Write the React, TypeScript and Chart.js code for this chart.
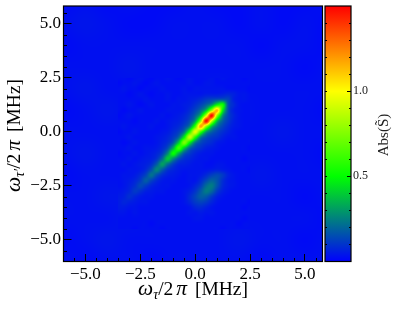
import React, { useEffect, useRef } from "react";
import { Chart, registerables, ScatterController } from "chart.js";

Chart.register(...registerables);

const FONT = '"Liberation Serif", serif';

// Tick positions
const xMajor = [-5, -2.5, 0, 2.5, 5];
const yMajor = [-5, -2.5, 0, 2.5, 5];
const axisMinor = [-5.5, -4.5, -4, -3.5, -3, -2, -1.5, -1, -0.5, 0.5, 1, 1.5, 2, 3, 3.5, 4, 4.5, 5.5];
const cbMajor = [0.5, 1.0];
const cbMinor = [0.1, 0.2, 0.3, 0.4, 0.5, 0.6, 0.7, 0.8, 0.9, 1.0, 1.1, 1.2, 1.3, 1.4];

// Axis label pieces
const xLabelRuns = [
  { text: "ω", italic: true, math: true },
  { text: "τ", italic: true, sub: true },
  { text: "/2", pad: 3 },
  { text: "π", italic: true, math: true, pad: 3 },
  { text: " [MHz]" },
];
const yLabelRuns = [
  { text: "ω", italic: true, math: true },
  { text: "τ′", italic: true, sub: true },
  { text: "/2", pad: 3 },
  { text: "π", italic: true, math: true, pad: 3 },
  { text: " [MHz]" },
];
const cbLabel = "Abs(S̃)";

// Colour map stops: value, r, g, b
const cmapStops = [
  [0, 0, 0, 255],
  [0.5, 0, 255, 0],
  [1.0, 255, 255, 0],
  [1.5, 255, 0, 0],
];

// Wide background grid (values ×100), top row first
const coarseX = [-6, -5, -4, -3, -2, -1, 0, 1, 2, 3, 4, 5, 6];
const coarseY = [6, 5, 4, 3, 2, 1, 0, -1, -2, -3, -4, -5, -6];
const coarseRows = [
  [2, 3, 2, 3, 2, 2, 3, 2, 2, 3, 2, 2, 3],
  [3, 4, 3, 2, 2, 3, 3, 3, 2, 3, 2, 3, 2],
  [2, 3, 3, 3, 3, 3, 3, 3, 3, 2, 3, 3, 2],
  [3, 3, 3, 4, 3, 3, 3, 3, 3, 3, 3, 2, 3],
  [3, 4, 3, 3, 3, 3, 3, 4, 3, 3, 3, 3, 3],
  [2, 3, 4, 3, 3, 3, 3, 3, 4, 3, 3, 3, 2],
  [3, 3, 3, 3, 3, 3, 3, 3, 3, 3, 4, 3, 3],
  [3, 4, 3, 3, 3, 3, 3, 3, 3, 3, 3, 3, 2],
  [2, 3, 3, 3, 4, 4, 3, 3, 3, 4, 3, 3, 3],
  [3, 3, 4, 4, 4, 3, 4, 3, 3, 3, 3, 2, 3],
  [3, 3, 3, 4, 3, 3, 3, 3, 3, 3, 3, 3, 2],
  [2, 3, 4, 3, 3, 3, 3, 3, 4, 3, 3, 2, 3],
  [3, 2, 3, 3, 2, 3, 3, 3, 3, 2, 3, 3, 3],
];

// Central fine grid (values ×100), top row first
const fineX = [-3.5, -3.25, -3, -2.75, -2.5, -2.25, -2, -1.75, -1.5, -1.25, -1, -0.75, -0.5, -0.25, 0, 0.25, 0.5, 0.75, 1, 1.25, 1.5, 1.75, 2, 2.25, 2.5];
const fineY = [2.5, 2.25, 2, 1.75, 1.5, 1.25, 1, 0.75, 0.5, 0.25, 0, -0.25, -0.5, -0.75, -1, -1.25, -1.5, -1.75, -2, -2.25, -2.5, -2.75, -3, -3.25, -3.5, -3.75, -4, -4.25, -4.5];
const fineRows = [
  [3, 3, 2, 3, 4, 3, 2, 3, 3, 4, 3, 2, 3, 4, 3, 3, 3, 4, 3, 4, 3, 3, 3, 2, 3],
  [2, 3, 3, 4, 3, 2, 3, 4, 3, 3, 3, 3, 3, 4, 3, 3, 4, 4, 3, 3, 3, 3, 3, 3, 3],
  [3, 4, 3, 3, 2, 3, 3, 3, 4, 3, 3, 3, 4, 3, 4, 4, 4, 4, 4, 4, 3, 3, 3, 3, 2],
  [3, 3, 2, 3, 4, 3, 2, 3, 3, 4, 3, 3, 4, 4, 4, 4, 5, 5, 5, 6, 7, 6, 4, 4, 3],
  [3, 3, 3, 3, 3, 4, 3, 3, 3, 4, 3, 4, 4, 5, 6, 8, 11, 13, 15, 16, 13, 6, 4, 4, 3],
  [3, 3, 4, 3, 2, 3, 4, 3, 3, 3, 4, 4, 5, 6, 9, 13, 19, 29, 49, 53, 16, 8, 4, 3, 3],
  [3, 2, 3, 3, 4, 3, 3, 3, 3, 4, 4, 4, 5, 8, 13, 21, 38, 78, 113, 49, 15, 6, 4, 3, 3],
  [2, 3, 4, 3, 3, 3, 3, 3, 4, 3, 4, 5, 7, 11, 19, 38, 90, 148, 78, 29, 13, 7, 4, 3, 3],
  [3, 3, 3, 2, 3, 3, 3, 4, 3, 4, 5, 6, 9, 15, 31, 78, 148, 90, 38, 19, 11, 6, 4, 3, 3],
  [3, 4, 3, 3, 3, 3, 4, 3, 3, 4, 6, 8, 13, 25, 62, 118, 78, 38, 21, 13, 8, 5, 4, 3, 3],
  [2, 3, 3, 4, 3, 3, 3, 3, 4, 5, 8, 12, 23, 56, 95, 62, 31, 19, 13, 9, 6, 4, 3, 3, 3],
  [3, 3, 4, 3, 3, 3, 3, 4, 5, 7, 11, 20, 48, 88, 56, 25, 15, 11, 9, 6, 4, 4, 3, 3, 3],
  [3, 2, 3, 4, 3, 3, 3, 4, 6, 9, 17, 40, 74, 48, 23, 14, 10, 8, 5, 4, 3, 3, 3, 3, 3],
  [3, 3, 4, 3, 3, 4, 4, 5, 8, 15, 34, 61, 40, 20, 12, 9, 6, 5, 4, 3, 3, 3, 3, 3, 2],
  [2, 3, 3, 4, 3, 4, 5, 7, 12, 27, 51, 34, 17, 11, 7, 5, 4, 4, 3, 3, 3, 3, 3, 3, 3],
  [3, 3, 4, 3, 4, 5, 6, 10, 21, 39, 27, 15, 9, 7, 5, 4, 4, 3, 3, 3, 3, 3, 3, 2, 3],
  [3, 4, 3, 4, 5, 6, 9, 18, 31, 21, 12, 7, 6, 5, 4, 4, 3, 3, 4, 4, 3, 3, 3, 3, 3],
  [3, 3, 4, 4, 5, 8, 15, 26, 18, 10, 7, 5, 4, 4, 4, 4, 4, 5, 6, 5, 4, 3, 3, 3, 2],
  [3, 4, 4, 5, 8, 13, 22, 15, 9, 6, 5, 4, 3, 4, 4, 5, 8, 12, 14, 11, 6, 4, 3, 3, 3],
  [3, 4, 5, 7, 11, 18, 13, 8, 5, 4, 4, 3, 3, 4, 4, 8, 14, 19, 16, 9, 5, 4, 3, 3, 3],
  [3, 4, 6, 9, 14, 11, 7, 5, 4, 4, 3, 3, 3, 4, 7, 12, 21, 24, 16, 8, 5, 4, 3, 3, 3],
  [4, 5, 7, 11, 9, 6, 5, 4, 4, 3, 3, 3, 4, 6, 10, 17, 24, 20, 11, 6, 4, 3, 3, 3, 3],
  [5, 6, 9, 7, 5, 4, 4, 3, 3, 3, 3, 3, 4, 8, 13, 18, 17, 11, 6, 4, 3, 3, 3, 3, 3],
  [5, 7, 6, 5, 4, 4, 3, 3, 3, 3, 3, 3, 4, 7, 11, 13, 11, 7, 4, 3, 3, 3, 3, 3, 2],
  [5, 5, 4, 4, 3, 3, 3, 3, 3, 3, 3, 3, 3, 4, 7, 8, 6, 4, 3, 3, 3, 3, 3, 2, 3],
  [4, 4, 3, 4, 3, 3, 3, 3, 3, 3, 3, 3, 3, 4, 4, 5, 4, 4, 3, 3, 3, 3, 3, 3, 3],
  [3, 3, 3, 3, 3, 3, 3, 3, 3, 3, 3, 3, 3, 3, 4, 4, 3, 3, 3, 3, 3, 3, 3, 2, 3],
  [3, 3, 3, 3, 3, 3, 2, 3, 3, 3, 3, 3, 3, 3, 3, 3, 3, 3, 3, 3, 3, 3, 2, 3, 3],
  [3, 3, 3, 2, 3, 3, 3, 3, 2, 3, 3, 3, 3, 3, 3, 3, 3, 3, 3, 2, 3, 3, 3, 3, 3],
];

function colorOf(v: number): number[] {
  for (let i = 1; i < cmapStops.length; i++) {
    const a = cmapStops[i - 1];
    const b = cmapStops[i];
    if (v <= b[0]) {
      const t = Math.max(0, (v - a[0]) / (b[0] - a[0]));
      return [a[1] + (b[1] - a[1]) * t, a[2] + (b[2] - a[2]) * t, a[3] + (b[3] - a[3]) * t];
    }
  }
  const l = cmapStops[cmapStops.length - 1];
  return [l[1], l[2], l[3]];
}

function cubicWeights(t: number): number[] {
  const t2 = t * t;
  const t3 = t2 * t;
  return [
    0.5 * (-t3 + 2 * t2 - t),
    0.5 * (3 * t3 - 5 * t2 + 2),
    0.5 * (-3 * t3 + 4 * t2 + t),
    0.5 * (t3 - t2),
  ];
}

// Image-style heat layer: a grid dataset resampled smoothly through the chart's scales.
class HeatController extends ScatterController {
  static id = "heat";
  static defaults = ScatterController.defaults;
  static overrides = ScatterController.overrides;

  draw() {
    const chart: any = (this as any).chart;
    const ds: any = (this as any).getDataset();
    const { ctx, chartArea, scales } = chart;
    const xs: number[] = ds.gridX;
    const ys: number[] = ds.gridY;
    const nx = xs.length;
    const ny = ys.length;
    const left = Math.floor(chartArea.left);
    const top = Math.floor(chartArea.top);
    const w = Math.ceil(chartArea.right) - left;
    const h = Math.ceil(chartArea.bottom) - top;
    const off = document.createElement("canvas");
    off.width = w;
    off.height = h;
    const octx = off.getContext("2d")!;
    const img = octx.createImageData(w, h);
    const at = (r: number, c: number) => {
      const rr = Math.min(ny - 1, Math.max(0, r));
      const cc = Math.min(nx - 1, Math.max(0, c));
      return ds.data[rr * nx + cc]?.v ?? 0.03;
    };
    for (let py = 0; py < h; py++) {
      const yv = scales.y.getValueForPixel(top + py + 0.5);
      const fy = (yv - ys[0]) / (ys[1] - ys[0]);
      if (fy < 0 || fy > ny - 1) continue;
      const r0 = Math.floor(fy);
      const wy = cubicWeights(fy - r0);
      for (let px = 0; px < w; px++) {
        const xv = scales.x.getValueForPixel(left + px + 0.5);
        const fx = (xv - xs[0]) / (xs[1] - xs[0]);
        if (fx < 0 || fx > nx - 1) continue;
        const c0 = Math.floor(fx);
        const wx = cubicWeights(fx - c0);
        let v = 0;
        for (let j = 0; j < 4; j++) {
          for (let i = 0; i < 4; i++) {
            v += wy[j] * wx[i] * at(r0 - 1 + j, c0 - 1 + i);
          }
        }
        const c = colorOf(Math.min(1.5, Math.max(0, v)));
        const k = (py * w + px) * 4;
        img.data[k] = c[0];
        img.data[k + 1] = c[1];
        img.data[k + 2] = c[2];
        img.data[k + 3] = 255;
      }
    }
    octx.putImageData(img, 0, 0);
    ctx.save();
    ctx.drawImage(off, left, top);
    ctx.restore();
  }
}
Chart.register(HeatController as any);

function gridPoints(xs: number[], ys: number[], rows: number[][]) {
  return ys.flatMap((y, r) => xs.map((x, c) => ({ x, y, v: rows[r][c] / 100 })));
}

function drawRuns(ctx: CanvasRenderingContext2D, runs: any[], size: number) {
  const fontOf = (run: any) =>
    `${run.italic ? "italic " : ""}${run.sub ? size * 0.72 : run.math ? size * 1.1 : size}px ${FONT}`;
  let total = 0;
  for (const run of runs) {
    ctx.font = fontOf(run);
    total += ctx.measureText(run.text).width + (run.pad ?? 0);
  }
  let x = -total / 2;
  ctx.textBaseline = "alphabetic";
  ctx.textAlign = "left";
  ctx.fillStyle = "#000";
  for (const run of runs) {
    ctx.font = fontOf(run);
    ctx.fillText(run.text, x, run.sub ? size * 0.22 : 0);
    x += ctx.measureText(run.text).width + (run.pad ?? 0);
  }
}

function frame(ctx: CanvasRenderingContext2D, a: any) {
  ctx.save();
  ctx.strokeStyle = "#000";
  ctx.lineWidth = 1.2;
  ctx.strokeRect(a.left, a.top, a.right - a.left, a.bottom - a.top);
  ctx.restore();
}

const mainDecor = {
  id: "mainDecor",
  afterDraw(chart: any) {
    const { ctx, chartArea: a, scales } = chart;
    ctx.save();
    ctx.strokeStyle = "#000";
    ctx.lineWidth = 1;
    ctx.beginPath();
    for (const v of axisMinor) {
      const px = Math.round(scales.x.getPixelForValue(v)) + 0.5;
      if (px > a.left && px < a.right) {
        ctx.moveTo(px, a.bottom);
        ctx.lineTo(px, a.bottom - 3.5);
      }
      const py = Math.round(scales.y.getPixelForValue(v)) + 0.5;
      if (py > a.top && py < a.bottom) {
        ctx.moveTo(a.left, py);
        ctx.lineTo(a.left + 3.5, py);
      }
    }
    ctx.stroke();
    ctx.restore();
    frame(ctx, a);
    ctx.save();
    ctx.translate(193, 295);
    drawRuns(ctx, xLabelRuns, 19.5);
    ctx.restore();
    ctx.save();
    ctx.translate(20, 135.5);
    ctx.rotate(-Math.PI / 2);
    drawRuns(ctx, yLabelRuns, 19.5);
    ctx.restore();
  },
};

const cbDecor = {
  id: "cbDecor",
  afterDraw(chart: any) {
    const { ctx, chartArea: a, scales } = chart;
    ctx.save();
    ctx.strokeStyle = "#000";
    ctx.lineWidth = 1;
    ctx.beginPath();
    for (const v of cbMinor) {
      const py = Math.round(scales.y.getPixelForValue(v)) + 0.5;
      ctx.moveTo(a.left, py);
      ctx.lineTo(a.left + 2, py);
      ctx.moveTo(a.right, py);
      ctx.lineTo(a.right - 2, py);
    }
    ctx.stroke();
    ctx.restore();
    frame(ctx, a);
    ctx.save();
    ctx.translate(388, 135);
    ctx.rotate(-Math.PI / 2);
    ctx.font = `15px ${FONT}`;
    ctx.textAlign = "center";
    ctx.textBaseline = "alphabetic";
    ctx.fillStyle = "#222";
    ctx.fillText(cbLabel, 0, 0);
    ctx.restore();
  },
};

const tickText = (v: any) => String(Number(v).toFixed(1)).replace("-", "\u2212");
const noScalePadding = (s: any) => {
  s.paddingLeft = 0;
  s.paddingRight = 0;
  s.paddingTop = 0;
  s.paddingBottom = 0;
};

export default function App() {
  const mainRef = useRef<HTMLCanvasElement>(null);
  const cbRef = useRef<HTMLCanvasElement>(null);

  useEffect(() => {
    const main = new Chart(mainRef.current!, {
      type: "scatter",
      data: {
        datasets: [
          { type: "heat", label: "fine", data: gridPoints(fineX, fineY, fineRows), gridX: fineX, gridY: fineY } as any,
          { type: "heat", label: "coarse", data: gridPoints(coarseX, coarseY, coarseRows), gridX: coarseX, gridY: coarseY } as any,
        ],
      },
      options: {
        responsive: false,
        animation: false,
        events: [],
        layout: { padding: { left: 0, top: 6, right: 92.5, bottom: 0 } },
        plugins: { legend: { display: false }, tooltip: { enabled: false } },
        scales: {
          x: {
            type: "linear",
            min: -6,
            max: 5.8,
            afterBuildTicks: (s: any) => {
              s.ticks = xMajor.map((value) => ({ value }));
            },
            afterFit: (s: any) => {
              s.height = 51.5;
              noScalePadding(s);
            },
            border: { display: false },
            grid: { drawOnChartArea: false, drawTicks: true, tickLength: -7.5, color: "#000", z: 1 },
            ticks: {
              autoSkip: false,
              maxRotation: 0,
              padding: 10,
              color: "#000",
              font: { family: FONT, size: 17 },
              callback: tickText,
            },
          },
          y: {
            type: "linear",
            min: -6,
            max: 5.82,
            afterBuildTicks: (s: any) => {
              s.ticks = yMajor.map((value) => ({ value }));
            },
            afterFit: (s: any) => {
              s.width = 63.5;
              noScalePadding(s);
            },
            border: { display: false },
            grid: { drawOnChartArea: false, drawTicks: true, tickLength: -8, color: "#000", z: 1 },
            ticks: {
              autoSkip: false,
              padding: 10.5,
              color: "#000",
              font: { family: FONT, size: 17 },
              callback: tickText,
            },
          },
        },
      } as any,
      plugins: [mainDecor],
    });

    const cb = new Chart(cbRef.current!, {
      type: "bar",
      data: {
        labels: ["Abs"],
        datasets: [
          {
            data: [[0, 1.5]],
            categoryPercentage: 1,
            barPercentage: 1,
            backgroundColor: (c: any) => {
              const { chart } = c;
              if (!chart.chartArea) return "#0000ff";
              const y = chart.scales.y;
              const g = chart.ctx.createLinearGradient(0, y.getPixelForValue(0), 0, y.getPixelForValue(1.5));
              for (const s of cmapStops) g.addColorStop(s[0] / 1.5, `rgb(${s[1]},${s[2]},${s[3]})`);
              return g;
            },
          } as any,
        ],
      },
      options: {
        responsive: false,
        animation: false,
        events: [],
        layout: { padding: { left: 325, top: 6, right: 0, bottom: 51.5 } },
        plugins: { legend: { display: false }, tooltip: { enabled: false } },
        scales: {
          x: { display: false },
          y: {
            position: "right",
            min: 0,
            max: 1.5,
            afterBuildTicks: (s: any) => {
              s.ticks = cbMajor.map((value) => ({ value }));
            },
            afterFit: (s: any) => {
              s.width = 64;
              noScalePadding(s);
            },
            border: { display: false },
            grid: { drawOnChartArea: false, drawTicks: true, tickLength: -4, color: "#000", z: 1 },
            ticks: {
              autoSkip: false,
              padding: 6,
              color: "#222",
              font: { family: FONT, size: 12 },
              callback: tickText,
            },
          },
        },
      } as any,
      plugins: [cbDecor],
    });

    return () => {
      main.destroy();
      cb.destroy();
    };
  }, []);

  return (
    <div style={{ position: "absolute", left: 0, top: 0, width: 415, height: 313, background: "#fff" }}>
      <canvas ref={mainRef} width={415} height={313} style={{ position: "absolute", left: 0, top: 0 }} />
      <canvas ref={cbRef} width={415} height={313} style={{ position: "absolute", left: 0, top: 0 }} />
    </div>
  );
}
